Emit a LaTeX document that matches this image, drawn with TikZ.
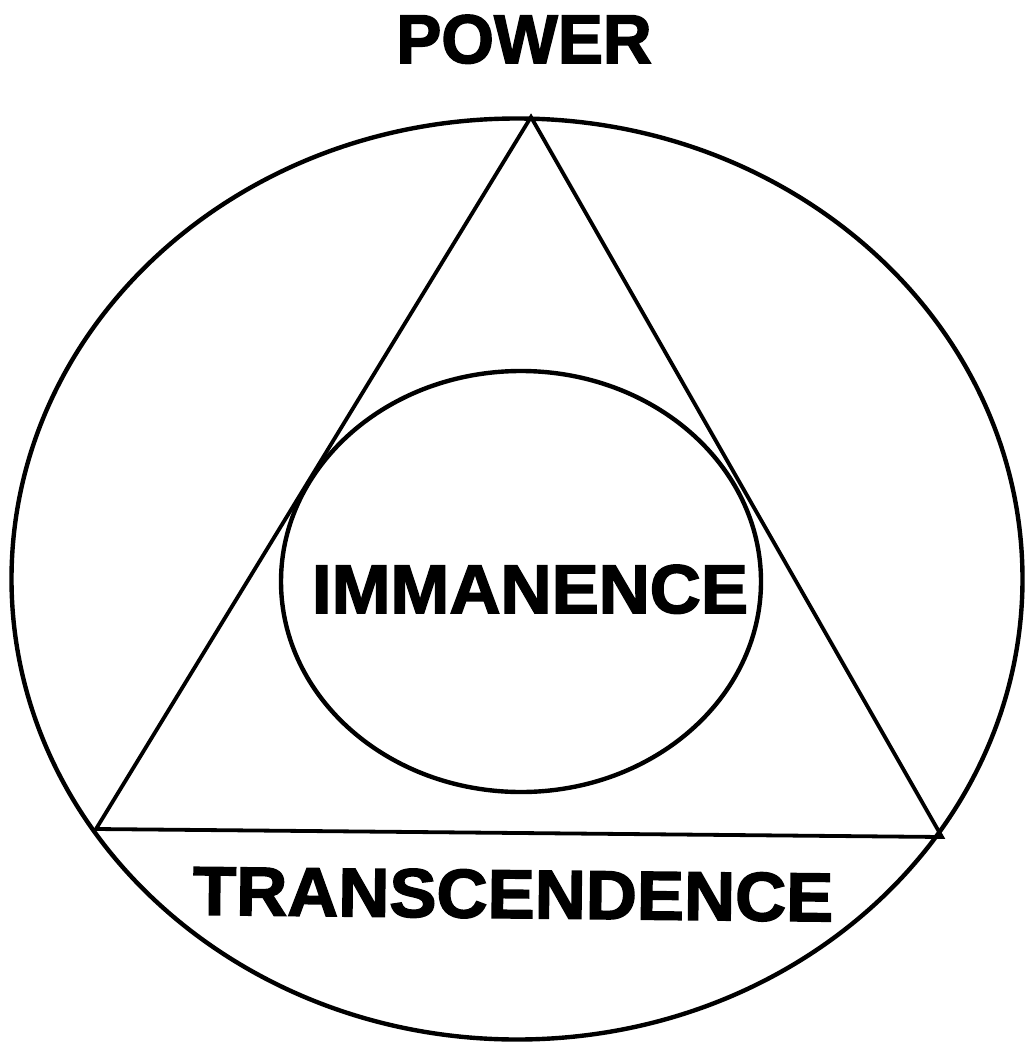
\documentclass[tikz,border=0pt]{standalone}
\usepackage{fontspec}
\newfontfamily\heavyfont[FakeBold=2.2]{Liberation Sans Bold}
\usetikzlibrary{shapes.geometric}
\begin{document}
\begin{tikzpicture}[x=1pt,y=-1pt,
  ring/.style={draw=black,line width=4.4pt,ellipse,inner sep=0pt},
  edge/.style={draw=black,line width=3.8pt,line join=miter},
  lbl/.style={anchor=base,inner sep=0pt,font=\fontsize{69}{69}\heavyfont}]
\useasboundingbox (0,0) rectangle (1026,1044);
\node[ring,minimum width=1011pt,minimum height=921pt] (outer) at (517,579) {};
\node[ring,minimum width=480pt,minimum height=421pt] (inner) at (521,581.5) {};
\coordinate (apex) at (531,117);
\coordinate (bl) at (96,829);
\coordinate (br) at (942,837);
\draw[edge] (apex) -- (bl) -- (br) -- cycle;
\node[lbl,xscale=0.98] (power) at (524,63) {POWER};
\node[lbl,xscale=1.025] (imm) at (530,613) {IMMANENCE};
\node[lbl,rotate=-0.6,xscale=1.025] (trans) at (513,918) {TRANSCENDENCE};
\end{tikzpicture}
\end{document}
